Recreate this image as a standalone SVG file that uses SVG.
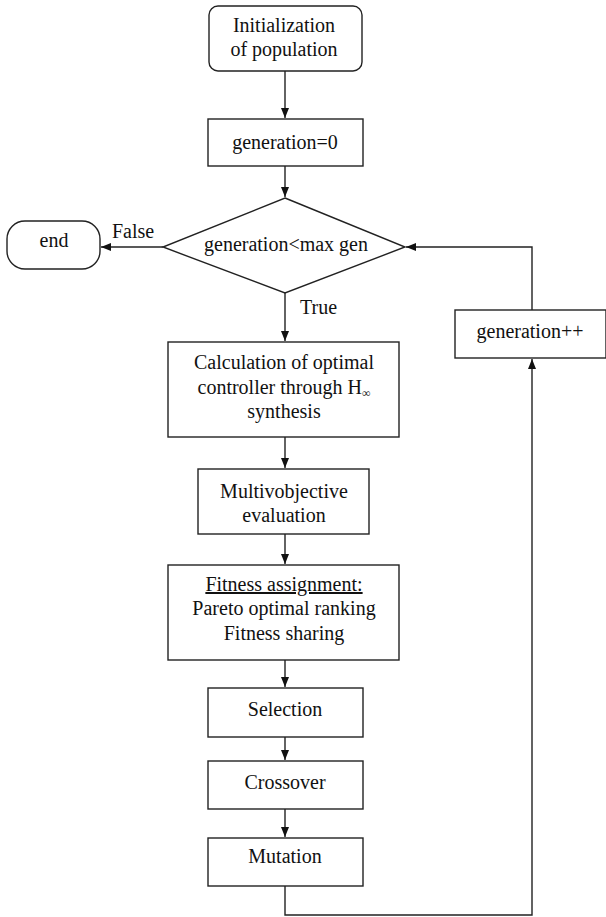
<svg xmlns="http://www.w3.org/2000/svg" width="606" height="917" viewBox="0 0 606 917">
<defs>
<marker id="arr" markerUnits="userSpaceOnUse" markerWidth="10" markerHeight="10" viewBox="0 0 10 10" refX="10" refY="5" orient="auto">
<path d="M0,1 L10,5 L0,9 Z" fill="#111"/>
</marker>
</defs>
<style>
.box{fill:#fff;stroke:#222;stroke-width:1.4}
.t{font-family:"Liberation Serif","Times New Roman",serif;font-size:20px;fill:#111;text-anchor:middle}
.l{font-family:"Liberation Serif","Times New Roman",serif;font-size:20px;fill:#111}
.c{fill:none;stroke:#222;stroke-width:1.4}
</style>
<rect width="606" height="917" fill="#fff"/>
<g id="connectors">
<path class="c" d="M285,71 V118" marker-end="url(#arr)"/>
<path class="c" d="M285,166 V197" marker-end="url(#arr)"/>
<path class="c" d="M163,247 H101" marker-end="url(#arr)"/>
<path class="c" d="M285,293 V341" marker-end="url(#arr)"/>
<path class="c" d="M285,437 V468" marker-end="url(#arr)"/>
<path class="c" d="M285,534 V564" marker-end="url(#arr)"/>
<path class="c" d="M285,660 V687" marker-end="url(#arr)"/>
<path class="c" d="M285,737 V760" marker-end="url(#arr)"/>
<path class="c" d="M285,809 V837" marker-end="url(#arr)"/>
<path class="c" d="M285,886 V915 H532 V359" marker-end="url(#arr)"/>
<path class="c" d="M532,310 V247 H406" marker-end="url(#arr)"/>
<text class="l" x="112" y="238">False</text>
<text class="l" x="300" y="314">True</text>
</g>
<g id="init">
<rect class="box" x="209" y="6" width="153" height="65" rx="9"/>
<text class="t" x="284" y="32">Initialization</text>
<text class="t" x="284" y="56">of population</text>
</g>
<g id="gen0">
<rect class="box" x="208" y="119" width="155" height="47"/>
<text class="t" x="285" y="149">generation=0</text>
</g>
<g id="decision">
<polygon class="box" points="285,198 405,247 285,293 163,247"/>
<text class="t" x="286" y="251">generation&lt;max gen</text>
</g>
<g id="end">
<rect class="box" x="7" y="221" width="93" height="48" rx="18"/>
<text class="t" x="54" y="247">end</text>
</g>
<g id="calc">
<rect class="box" x="168" y="342" width="231" height="95"/>
<text class="t" x="284" y="369">Calculation of optimal</text>
<text class="t" x="284" y="394">controller through H<tspan font-size="12" dy="3">∞</tspan></text>
<text class="t" x="284" y="418">synthesis</text>
</g>
<g id="multi">
<rect class="box" x="198" y="469" width="171" height="65"/>
<text class="t" x="284" y="498">Multivobjective</text>
<text class="t" x="284" y="522">evaluation</text>
</g>
<g id="fitness">
<rect class="box" x="168" y="565" width="231" height="95"/>
<text class="t" x="284" y="591" text-decoration="underline">Fitness assignment:</text>
<text class="t" x="284" y="615">Pareto optimal ranking</text>
<text class="t" x="284" y="640">Fitness sharing</text>
</g>
<g id="selection">
<rect class="box" x="208" y="688" width="155" height="49"/>
<text class="t" x="285" y="716">Selection</text>
</g>
<g id="crossover">
<rect class="box" x="208" y="761" width="155" height="48"/>
<text class="t" x="285" y="789">Crossover</text>
</g>
<g id="mutation">
<rect class="box" x="208" y="838" width="155" height="48"/>
<text class="t" x="285" y="863">Mutation</text>
</g>
<g id="genpp">
<rect class="box" x="455" y="310" width="151" height="48"/>
<text class="t" x="530" y="338">generation++</text>
</g>
</svg>
